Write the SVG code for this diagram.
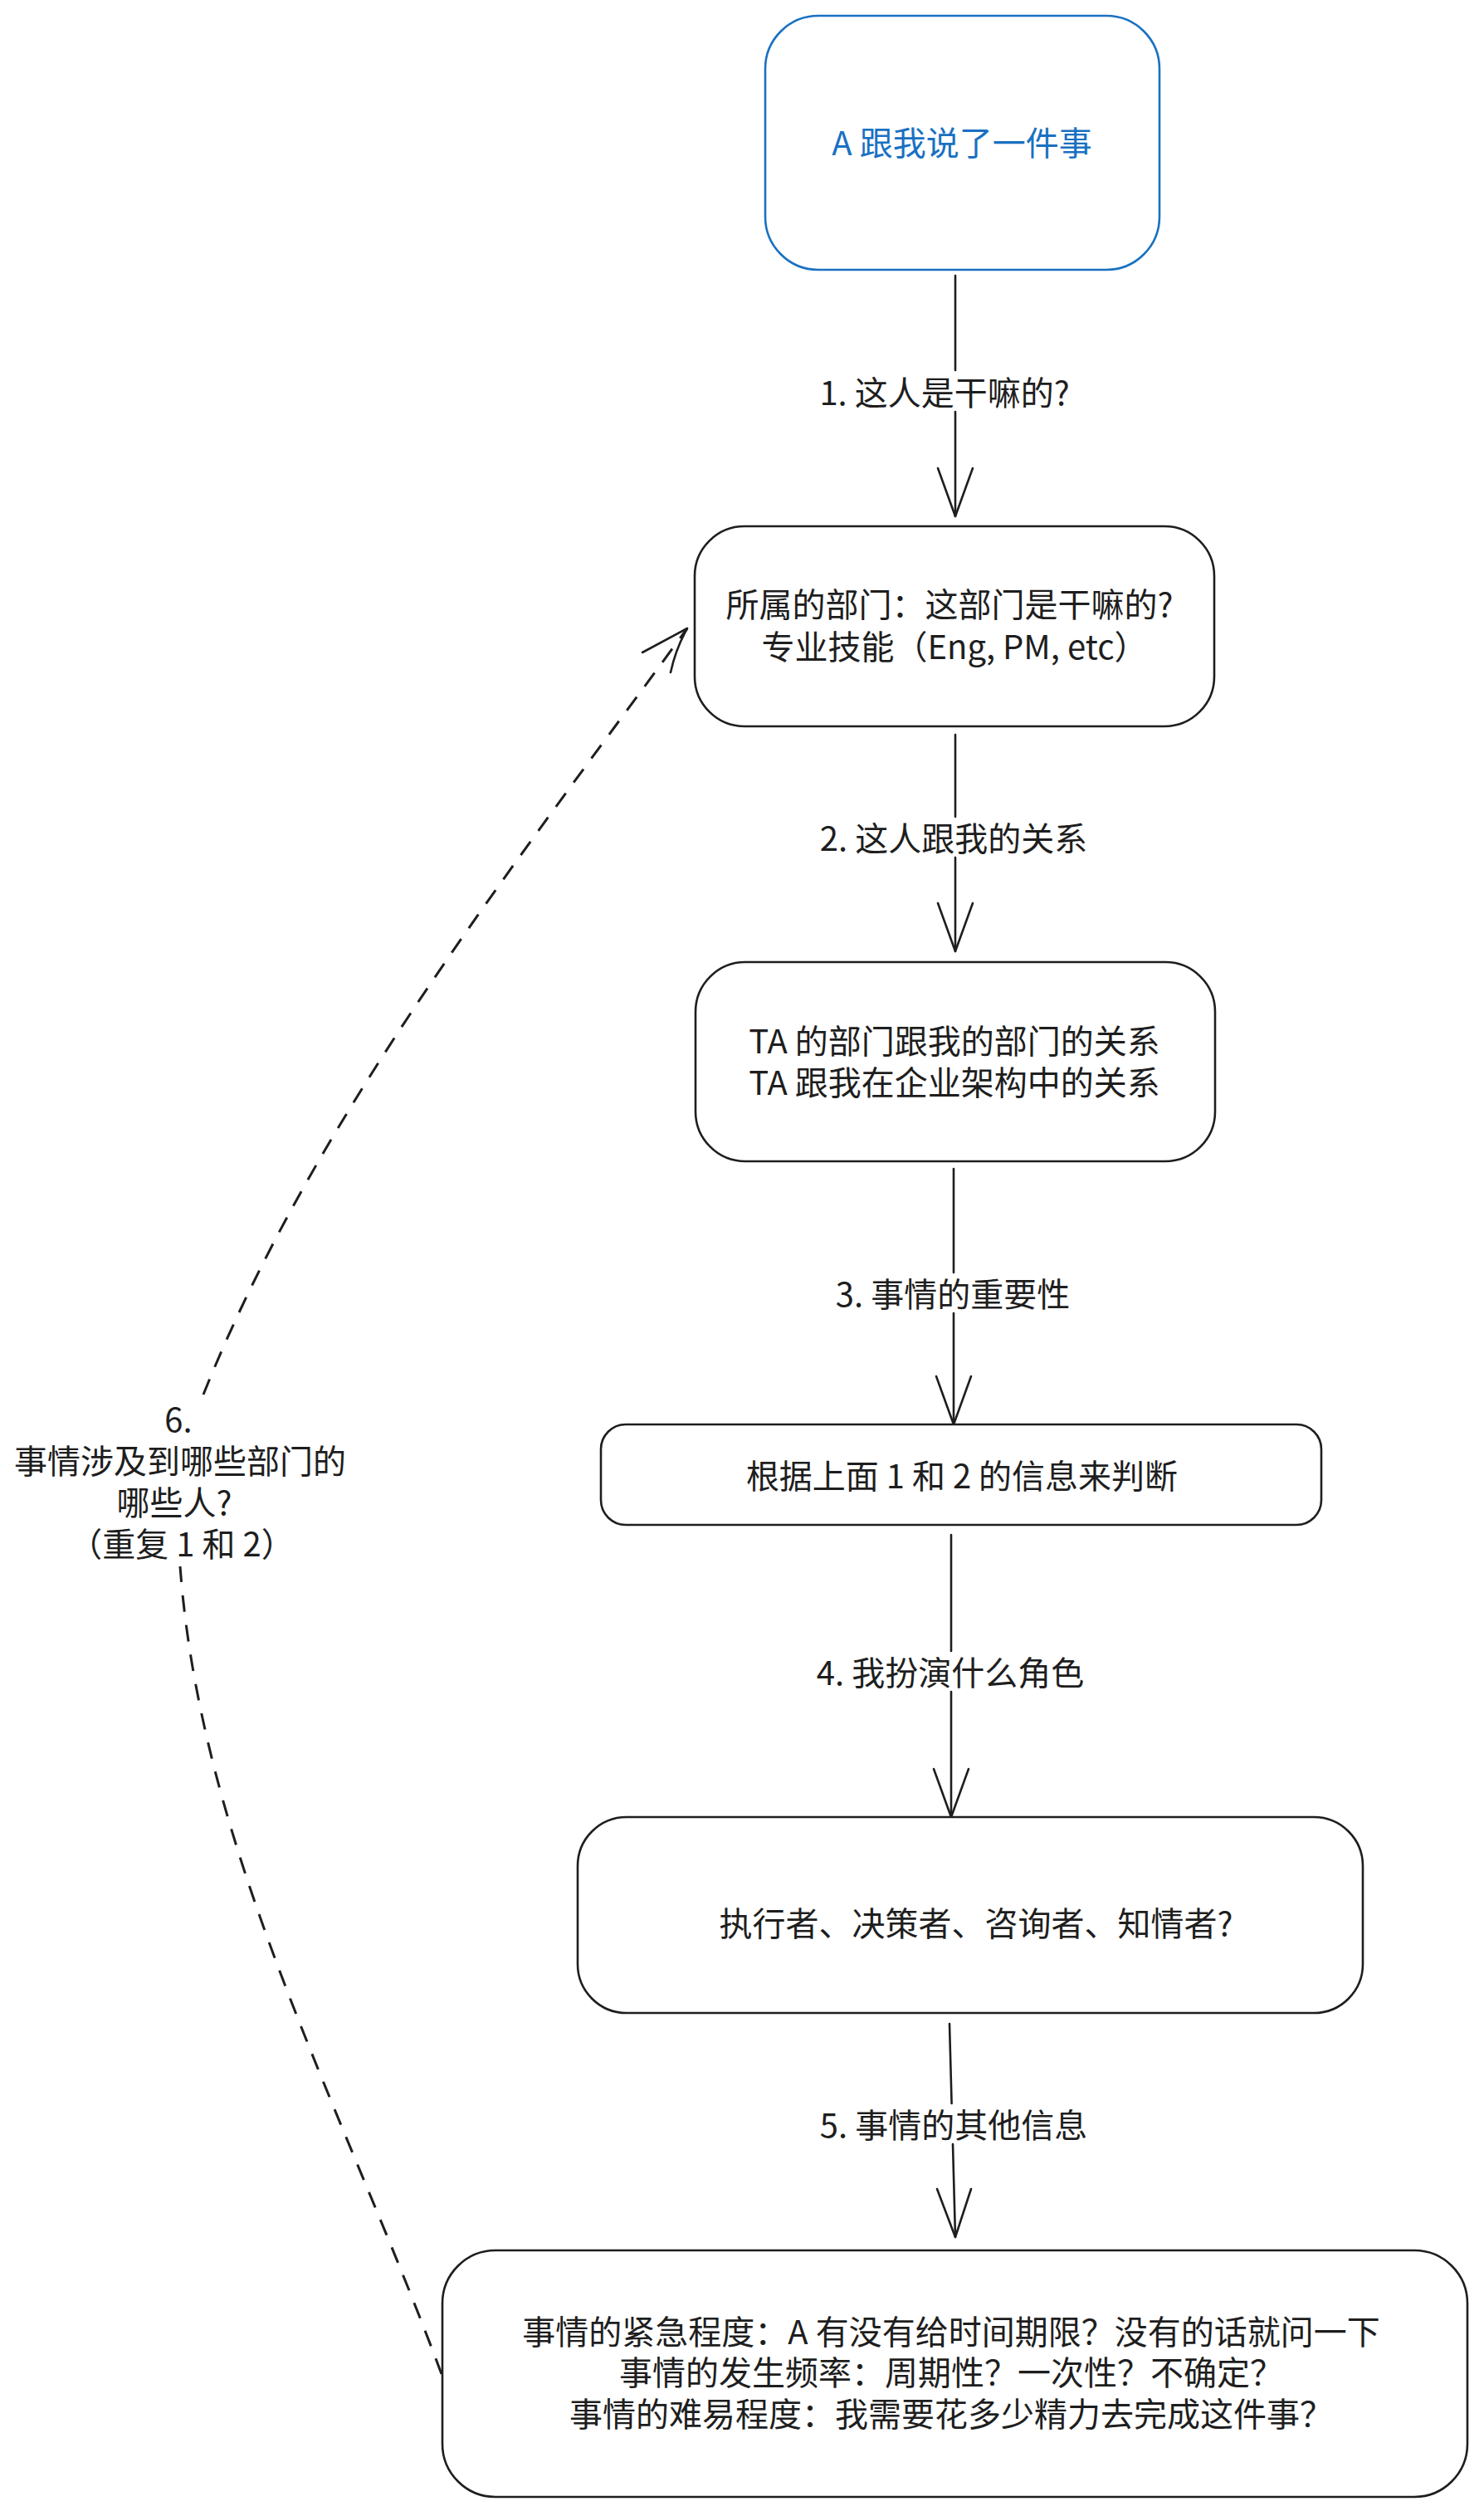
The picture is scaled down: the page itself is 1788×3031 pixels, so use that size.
<svg xmlns="http://www.w3.org/2000/svg" width="1788" height="3031" viewBox="0 0 1788 3031">
  <style>
    .box { fill: #ffffff; stroke: #1e1e1e; stroke-width: 2.6; }
    .blue { stroke: #1971c2; }
    .t { font-family: "Noto Sans CJK SC", "Liberation Sans", sans-serif; font-size: 40px; fill: #1e1e1e; text-anchor: middle; dominant-baseline: central; }
    .tb { fill: #1971c2; }
    .line { fill: none; stroke: #1e1e1e; stroke-width: 2.6; stroke-linecap: round; stroke-linejoin: round; }
    .dash { fill: none; stroke: #1e1e1e; stroke-width: 3; stroke-dasharray: 20 16; stroke-linecap: butt; }
  </style>
  <rect x="0" y="0" width="1788" height="3031" fill="#ffffff"/>

  <g id="connectors">
    <g id="arrow1">
      <path class="line" d="M1151,332 L1151,446 M1151,496 L1151,622"/>
      <path class="line" d="M1130,564 L1151,622 L1172,564"/>
      <text class="t" x="1138" y="471">1. 这人是干嘛的?</text>
    </g>
    <g id="arrow2">
      <path class="line" d="M1151,885 L1151,984 M1151,1033 L1151,1146"/>
      <path class="line" d="M1130,1088 L1151,1146 L1172,1088"/>
      <text class="t" x="1149" y="1008">2. 这人跟我的关系</text>
    </g>
    <g id="arrow3">
      <path class="line" d="M1149,1408 L1149,1533 M1149,1582 L1149,1716"/>
      <path class="line" d="M1128,1658 L1149,1716 L1170,1658"/>
      <text class="t" x="1148" y="1557">3. 事情的重要性</text>
    </g>
    <g id="arrow4">
      <path class="line" d="M1146,1849 L1146,1989 M1146,2038 L1146,2189"/>
      <path class="line" d="M1125,2131 L1146,2189 L1167,2131"/>
      <text class="t" x="1145" y="2013">4. 我扮演什么角色</text>
    </g>
    <g id="arrow5">
      <path class="line" d="M1144,2438 L1146.6,2534 M1148,2583 L1151,2695"/>
      <path class="line" d="M1129,2637 L1151,2695 L1170,2637"/>
      <text class="t" x="1149" y="2558">5. 事情的其他信息</text>
    </g>
    <g id="arrow6">
      <path class="dash" d="M532,2860 C413,2540 242,2226 217,1887"/>
      <path class="dash" d="M245,1680 C379,1346 616,1047 828,757"/>
      <path class="line" d="M774,786 L828,757 M808,810 Q814,782 828,757"/>
      <text class="t" x="215" y="1708">6.</text>
      <text class="t" x="217" y="1758">事情涉及到哪些部门的</text>
      <text class="t" x="210" y="1808">哪些人?</text>
      <text class="t" x="219" y="1858">（重复 1 和 2）</text>
    </g>
  </g>

  <g id="node-start">
    <rect class="box blue" x="922" y="19" width="475" height="306" rx="64" ry="64"/>
    <text class="t tb" x="1159" y="170">A 跟我说了一件事</text>
  </g>

  <g id="node-department">
    <rect class="box" x="837" y="634" width="626" height="241" rx="60" ry="60"/>
    <text class="t" x="1144" y="726">所属的部门：这部门是干嘛的?</text>
    <text class="t" x="1150" y="777">专业技能（Eng, PM, etc）</text>
  </g>

  <g id="node-relation">
    <rect class="box" x="838" y="1159" width="626" height="240" rx="60" ry="60"/>
    <text class="t" x="1150" y="1252">TA 的部门跟我的部门的关系</text>
    <text class="t" x="1150" y="1302">TA 跟我在企业架构中的关系</text>
  </g>

  <g id="node-judge">
    <rect class="box" x="724" y="1716" width="868" height="121" rx="30" ry="30"/>
    <text class="t" x="1159" y="1776">根据上面 1 和 2 的信息来判断</text>
  </g>

  <g id="node-role">
    <rect class="box" x="696" y="2189" width="946" height="236" rx="59" ry="59"/>
    <text class="t" x="1176" y="2315">执行者、决策者、咨询者、知情者?</text>
  </g>

  <g id="node-other">
    <rect class="box" x="533" y="2711" width="1235" height="297" rx="64" ry="64"/>
    <text class="t" x="1146" y="2807">事情的紧急程度：A 有没有给时间期限？没有的话就问一下</text>
    <text class="t" x="1146" y="2856">事情的发生频率：周期性？一次性？不确定？</text>
    <text class="t" x="1146" y="2906">事情的难易程度：我需要花多少精力去完成这件事？</text>
  </g>
</svg>
